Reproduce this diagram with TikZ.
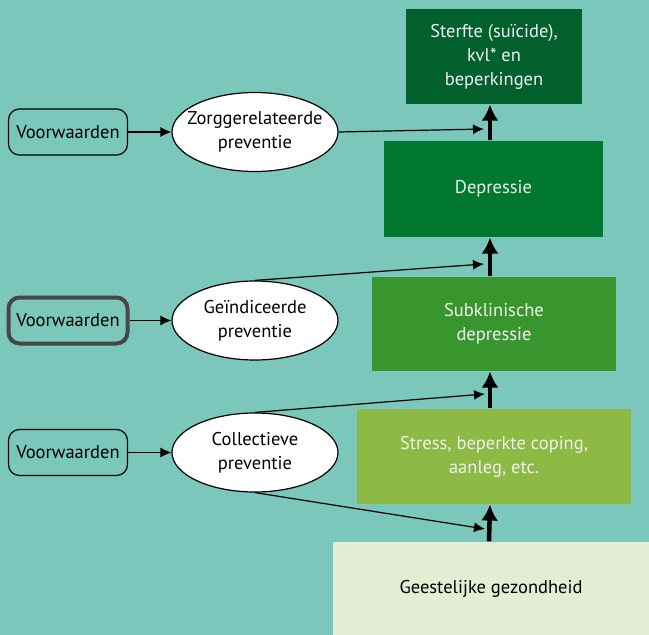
\documentclass[tikz,border=0pt]{standalone}
\usepackage{fontspec}
\setmainfont{PT Sans}
\usepackage{xcolor}
\usepackage{tikz}
\usetikzlibrary{arrows.meta,shapes.geometric,positioning}

\definecolor{achtergrond}{HTML}{7BC7BB}
\definecolor{sterfte}{HTML}{01602C}
\definecolor{depressie}{HTML}{00782F}
\definecolor{subklinisch}{HTML}{39962E}
\definecolor{stress}{HTML}{8CBA45}
\definecolor{gezond}{HTML}{E4EDD3}

\begin{document}
\begin{tikzpicture}[x=1pt,y=-1pt,->,>={Latex[length=11pt,width=10pt]},line width=1.2pt,
                    node distance=187pt,font=\fontsize{18.5}{24}\selectfont]
  \tikzstyle{blok}=[draw=none,text=white!94!black,align=center,inner sep=0pt]
  \tikzstyle{voorw}=[draw=black,rounded corners=11pt,minimum width=119pt,minimum height=46pt,inner sep=0pt]
  \tikzstyle{prev}=[ellipse,draw=black,fill=white,minimum width=166pt,minimum height=79pt,inner xsep=-15pt,inner ysep=0pt,align=center]
  \tikzstyle{dik}=[line width=4.5pt,-{Latex[length=16pt,width=17pt]}]

  \fill[achtergrond] (0,0) rectangle (649,635);
  \useasboundingbox (0,0) rectangle (649,635);

  \node[blok,fill=sterfte,minimum width=176pt,minimum height=95pt]     (S) at (494,56.5)  {Sterfte (suïcide),\\kvl* en\\beperkingen};
  \node[blok,fill=depressie,minimum width=219pt,minimum height=96pt]   (D) at (493.5,189) {Depressie};
  \node[blok,fill=subklinisch,minimum width=244pt,minimum height=94pt] (SK) at (494,324) {Subklinische\\depressie};
  \node[blok,fill=stress,minimum width=274pt,minimum height=95pt]      (ST) at (494,456.5) {Stress, beperkte coping,\\aanleg, etc.};
  \node[blok,fill=gezond,text=black,minimum width=316pt,minimum height=93pt] (GG) at (491,588.5) {Geestelijke gezondheid};

  \node[prev] (Z) at (255,132)   {Zorggerelateerde\\preventie};
  \node[prev] (G) at (255,320.5) {Geïndiceerde\\preventie};
  \node[prev] (C) at (255,452.5) {Collectieve\\preventie};

  \node[voorw]         (VZ) [left of=Z] {Voorwaarden};
  \node[voorw,draw=black!72,line width=4pt] (VG) [left of=G] {Voorwaarden};
  \node[voorw]         (VC) [left of=C] {Voorwaarden};

  \coordinate (pZ)  at (484,129);
  \coordinate (pG)  at (484,264);
  \coordinate (pC1) at (485,394);
  \coordinate (pC2) at (485,529);

  \path (VZ) edge (Z)
        (VG) edge (G)
        (VC) edge (C)
        (Z.east)  edge (pZ)
        (G.north) edge (pG)
        (C.north) edge (pC1)
        (C.south) edge (pC2);

  \draw[dik] ([xshift=-2pt]GG.north) -- ([xshift=-4pt]ST.south);
  \draw[dik] ([xshift=-4pt]ST.north) -- ([xshift=-4pt]SK.south);
  \draw[dik] ([xshift=-4pt]SK.north) -- ([xshift=-3.5pt]D.south);
  \draw[dik] ([xshift=-3.5pt]D.north) -- ([xshift=-4pt]S.south);
\end{tikzpicture}
\end{document}
